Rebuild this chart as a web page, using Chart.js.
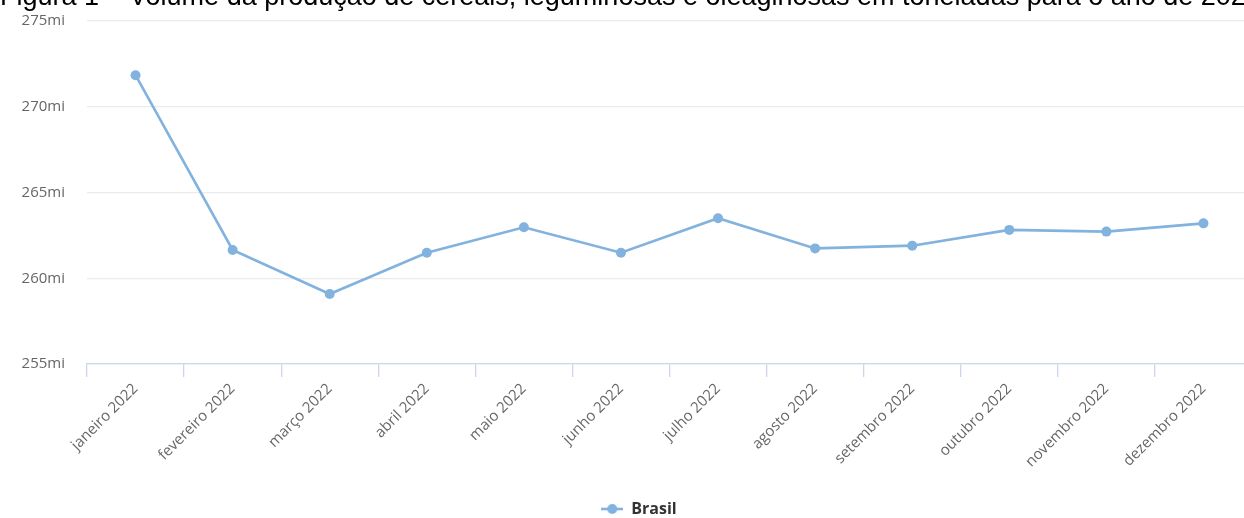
<!DOCTYPE html>
<html>
<head>
<meta charset="utf-8">
<script src="https://cdn.jsdelivr.net/npm/chart.js@4"></script>
<style>
  html, body { margin: 0; padding: 0; background: #fff; overflow: hidden; }
  #wrap { position: relative; width: 1244px; height: 518px; overflow: hidden; }
  #cap {
    position: absolute; left: 0; top: -17px;
    font: 27px/27px "Liberation Sans", Arial, sans-serif; color: #000;
    white-space: nowrap;
  }
  canvas { position: absolute; left: 0; top: -10px; }
</style>
</head>
<body>
<div id="wrap">
  <canvas id="chart" width="1262" height="537"></canvas>
  <div id="cap">Figura 1 – Volume da produção de cereais, leguminosas e oleaginosas em toneladas para o ano de 2022</div>
</div>
<script>
// Months of 2022
const months = [
  'janeiro 2022', 'fevereiro 2022', 'março 2022', 'abril 2022',
  'maio 2022', 'junho 2022', 'julho 2022', 'agosto 2022',
  'setembro 2022', 'outubro 2022', 'novembro 2022', 'dezembro 2022'
];

// Estimated harvest, millions of tonnes
const brasil = [271.84, 261.65, 259.08, 261.49, 262.97, 261.49, 263.50, 261.74, 261.90, 262.82, 262.72, 263.20];

// Value axis ticks (millions)
const yTicks = [255, 260, 265, 270, 275];

const seriesName = 'Brasil';
const lineColor = '#82b2de';
const labelFont = '"Open Sans", "DejaVu Sans", sans-serif';

// Legend symbol: short line with a dot, as in the series style
const legendMark = document.createElement('canvas');
legendMark.width = 22; legendMark.height = 12;
(function () {
  const g = legendMark.getContext('2d');
  g.strokeStyle = lineColor; g.lineWidth = 2.6;
  g.beginPath(); g.moveTo(0, 6); g.lineTo(22, 6); g.stroke();
  g.fillStyle = lineColor;
  g.beginPath(); g.arc(11, 6, 5, 0, Math.PI * 2); g.fill();
})();

// Centre the legend under the plot rather than under the whole canvas
const legendShift = {
  id: 'legendShift',
  afterLayout(chart) {
    if (chart.legend) { chart.legend.left += 13; chart.legend.right += 13; }
  }
};

new Chart(document.getElementById('chart'), {
  type: 'line',
  data: {
    labels: months,
    datasets: [{
      label: seriesName,
      data: brasil,
      borderColor: lineColor,
      backgroundColor: lineColor,
      borderWidth: 2.6,
      pointRadius: 5,
      pointBackgroundColor: lineColor,
      pointBorderWidth: 0,
      tension: 0,
      fill: false
    }]
  },
  plugins: [legendShift],
  options: {
    responsive: false,
    animation: false,
    layout: { padding: { left: 0, right: 10, top: 0, bottom: 0 } },
    plugins: {
      title: { display: false },
      tooltip: { enabled: false },
      legend: {
        position: 'bottom',
        labels: {
          usePointStyle: true,
          pointStyle: legendMark,
          pointStyleWidth: 22,
          padding: 1,
          color: '#333333',
          font: { family: labelFont, size: 16, weight: 'bold' }
        }
      }
    },
    scales: {
      x: {
        offset: true,
        grid: {
          offset: true,
          drawOnChartArea: false,
          drawTicks: true,
          tickLength: 13,
          color: '#ccd6eb',
          lineWidth: 1.3
        },
        border: { display: true, color: '#ccd6eb', width: 1.3 },
        ticks: {
          autoSkip: false,
          minRotation: 45,
          maxRotation: 45,
          padding: 3,
          color: '#666666',
          font: { family: labelFont, size: 15 }
        },
        afterFit: (s) => { s.height = 136; }
      },
      y: {
        min: 255,
        max: 275,
        afterBuildTicks: (s) => { s.ticks = yTicks.map(v => ({ value: v })); },
        grid: { color: '#ebebeb', lineWidth: 1.3, drawTicks: false },
        border: { display: false },
        ticks: {
          padding: 22,
          color: '#666666',
          font: { family: labelFont, size: 15 },
          callback: (v) => v + 'mi'
        },
        afterFit: (s) => { s.width = 87; }
      }
    }
  }
});
</script>
</body>
</html>
